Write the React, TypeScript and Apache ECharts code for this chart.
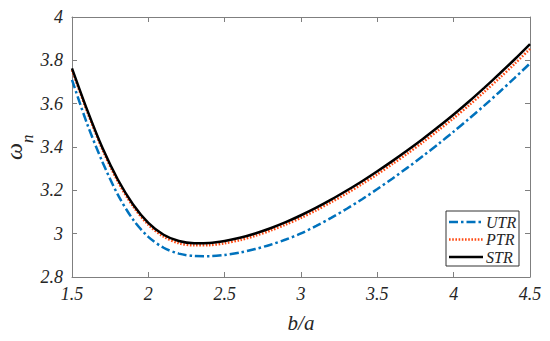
import React, { useEffect, useRef } from "react";
import * as echarts from "echarts";

const xValues = [1.5, 1.6, 1.7, 1.8, 1.9, 2.0, 2.1, 2.2, 2.3, 2.4, 2.5, 2.6, 2.7, 2.8, 2.9, 3.0, 3.1, 3.2, 3.3, 3.4, 3.5, 3.6, 3.7, 3.8, 3.9, 4.0, 4.1, 4.2, 4.3, 4.4, 4.5];

const utrValues = [3.71, 3.505, 3.33, 3.18, 3.065, 2.985, 2.935, 2.908, 2.897, 2.896, 2.902, 2.913, 2.929, 2.949, 2.973, 3.001, 3.036, 3.074, 3.115, 3.159, 3.206, 3.255, 3.306, 3.359, 3.414, 3.471, 3.53, 3.591, 3.654, 3.719, 3.786];

const ptrValues = [3.755, 3.562, 3.387, 3.241, 3.126, 3.041, 2.986, 2.956, 2.946, 2.947, 2.956, 2.97, 2.99, 3.014, 3.042, 3.073, 3.108, 3.146, 3.186, 3.229, 3.274, 3.322, 3.371, 3.423, 3.477, 3.533, 3.592, 3.654, 3.718, 3.784, 3.853];

const strValues = [3.763, 3.57, 3.395, 3.25, 3.135, 3.05, 2.995, 2.966, 2.956, 2.957, 2.966, 2.981, 3.001, 3.025, 3.053, 3.085, 3.12, 3.158, 3.199, 3.242, 3.288, 3.336, 3.386, 3.438, 3.493, 3.55, 3.61, 3.673, 3.738, 3.805, 3.875];

const seriesNames = ["UTR", "PTR", "STR"];
const seriesColors = ["#0072BD", "#FF4A12", "#000000"];
const xTickLabels = ["1.5", "2", "2.5", "3", "3.5", "4", "4.5"];
const yTickLabels = ["2.8", "3", "3.2", "3.4", "3.6", "3.8", "4"];
const xLabel = "b/a";

const FONT = "Liberation Serif";
const AXIS_COLOR = "#7f7f7f";
const TEXT_COLOR = "#262626";

export default function App() {
  const ref = useRef<HTMLDivElement>(null);

  useEffect(() => {
    if (!ref.current) return;
    const chart = echarts.init(ref.current, null, { renderer: "svg" });
    const pairs = (vals: number[]) => xValues.map((x, i) => [x, vals[i]]);

    const baseX = {
      type: "value",
      min: 1.5,
      max: 4.5,
      interval: 0.5,
      splitLine: { show: false },
      axisLabel: { show: false },
      axisLine: { show: true, lineStyle: { color: AXIS_COLOR, width: 1 } },
      axisTick: { show: true, inside: true, length: 5, lineStyle: { color: AXIS_COLOR } },
    };
    const baseY = {
      type: "value",
      min: 2.8,
      max: 4,
      interval: 0.2,
      splitLine: { show: false },
      axisLabel: { show: false },
      axisLine: { show: true, lineStyle: { color: AXIS_COLOR, width: 1 } },
      axisTick: { show: true, inside: true, length: 5, lineStyle: { color: AXIS_COLOR } },
    };

    const dashes: any[] = [[9, 3, 2.5, 3], [1.6, 1.6], "solid"];

    chart.setOption({
      animation: false,
      grid: { left: 72, top: 17, right: 20, bottom: 64, show: false },
      xAxis: [
        { ...baseX, position: "bottom" },
        { ...baseX, position: "top" },
      ],
      yAxis: [
        { ...baseY, position: "left" },
        { ...baseY, position: "right" },
      ],
      series: [utrValues, ptrValues, strValues].map((vals, i) => ({
        name: seriesNames[i],
        type: "line",
        data: pairs(vals),
        smooth: 0.3,
        symbol: "none",
        lineStyle: { color: seriesColors[i], width: 2.5, type: dashes[i] },
        itemStyle: { color: seriesColors[i] },
        z: 2 + i,
      })),
    });

    const px = (v: number) => chart.convertToPixel({ xAxisIndex: 0 }, v) as number;
    const py = (v: number) => chart.convertToPixel({ yAxisIndex: 0 }, v) as number;
    const axisBottom = py(2.8);
    const axisLeft = px(1.5);
    const axisRight = px(4.5);

    const canvas = document.createElement("canvas");
    const ctx = canvas.getContext("2d");
    const measure = (text: string, size: number) => {
      if (!ctx) return text.length * size * 0.5;
      ctx.font = `italic ${size}px "${FONT}"`;
      return ctx.measureText(text).width;
    };

    const textEl = (text: string, size: number, x: number, y: number) => ({
      type: "text",
      x,
      y,
      style: {
        text,
        fontFamily: FONT,
        fontSize: size,
        fontStyle: "italic",
        fill: TEXT_COLOR,
      },
    });

    const graphics: any[] = [];
    xTickLabels.forEach((lab) => {
      const w = measure(lab, 18);
      graphics.push(textEl(lab, 18, px(parseFloat(lab)) - w / 2, axisBottom + 8));
    });
    yTickLabels.forEach((lab) => {
      const w = measure(lab, 18);
      graphics.push(textEl(lab, 18, axisLeft - 9 - w, py(parseFloat(lab)) - 9));
    });
    {
      const w = measure(xLabel, 21);
      graphics.push(textEl(xLabel, 21, (axisLeft + axisRight) / 2 - w / 2, axisBottom + 35));
    }

    graphics.push({
      type: "group",
      x: 14,
      y: 160,
      rotation: Math.PI / 2,
      children: [
        textEl("ω", 24, 0, -12),
        textEl("n", 17, 17, 4.5),
        {
          type: "line",
          shape: { x1: 17, y1: -10, x2: 21, y2: -10 },
          style: { stroke: TEXT_COLOR, lineWidth: 1.2 },
        },
      ],
    });

    const legLeft = 446;
    const legTop = 211;
    const legW = 73;
    const legH = 55;
    graphics.push({
      type: "rect",
      z: 10,
      shape: { x: legLeft, y: legTop, width: legW, height: legH },
      style: { fill: "#ffffff", stroke: "#333333", lineWidth: 1 },
    });
    seriesNames.forEach((name, i) => {
      const cy = legTop + 11 + i * 17.5;
      graphics.push({
        type: "line",
        z: 11,
        shape: { x1: legLeft + 3, y1: cy, x2: legLeft + 37, y2: cy },
        style: {
          stroke: seriesColors[i],
          lineWidth: 2.5,
          lineDash: Array.isArray(dashes[i]) ? dashes[i] : null,
        },
      });
      graphics.push({ ...textEl(name, 16, legLeft + 40, cy - 8), z: 11 });
    });

    chart.setOption({ graphic: graphics });

    return () => chart.dispose();
  }, []);

  return <div ref={ref} style={{ width: 550, height: 341, marginLeft: -8, marginTop: -8, background: "#ffffff" }} />;
}
